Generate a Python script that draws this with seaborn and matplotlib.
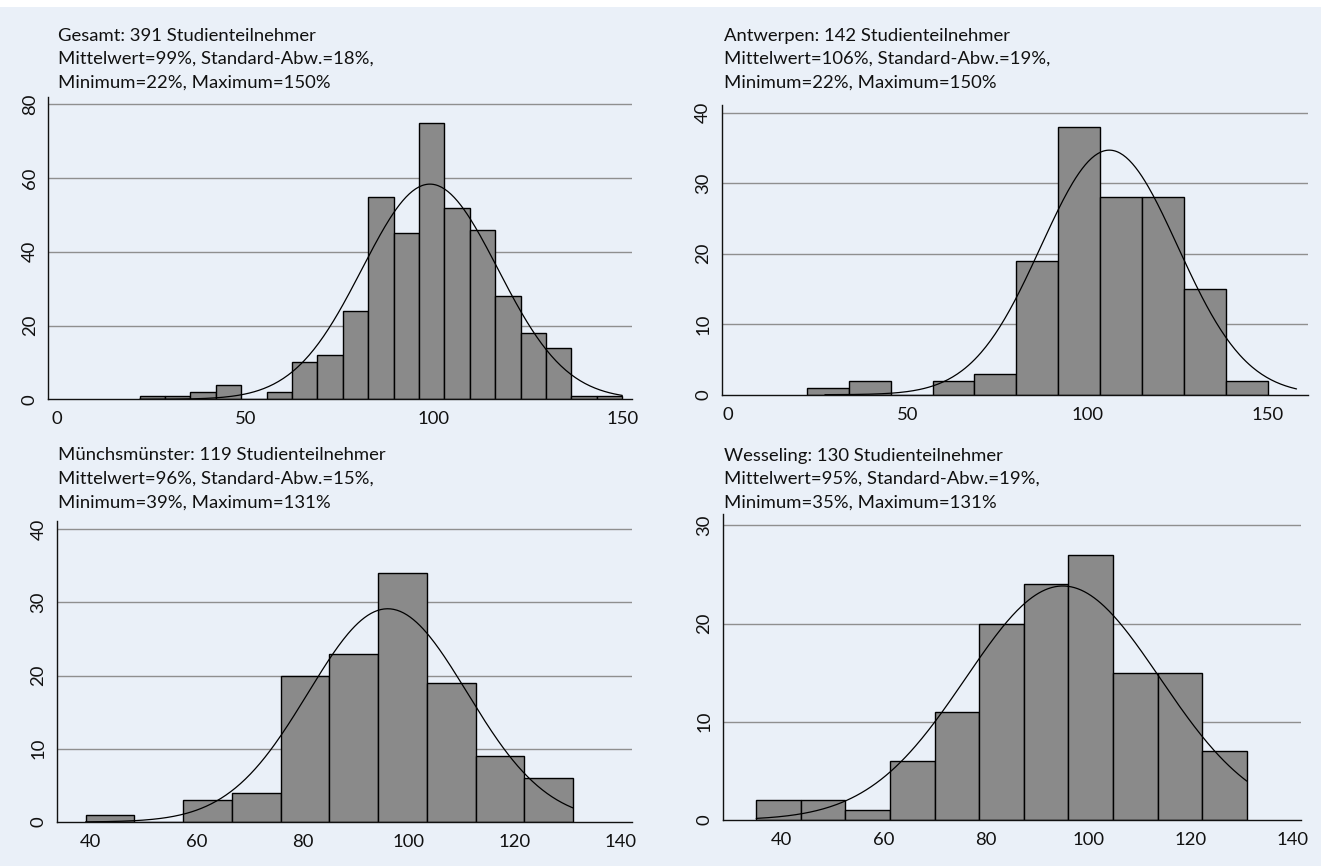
import numpy as np
import matplotlib
matplotlib.use("Agg")
import matplotlib.pyplot as plt
from matplotlib.patches import Rectangle
import pandas as pd
import seaborn as sns

sns.set_style("white")
plt.rcParams['font.family'] = ['Lato', 'DejaVu Sans']

# ---- data -------------------------------------------------------------
sites = ["Gesamt", "Antwerpen", "Münchsmünster", "Wesseling"]
participants = [391, 142, 119, 130]
mean_pct = [99, 106, 96, 95]
sd_pct = [18, 19, 15, 19]
min_pct = [22, 22, 39, 35]
max_pct = [150, 150, 131, 131]

# frequencies per histogram bin (equal-width bins from minimum to maximum)
counts_gesamt = [1, 1, 2, 4, 0, 2, 10, 12, 24, 55, 45, 75, 52, 46, 28, 18, 14, 1, 1]
counts_antwerpen = [1, 2, 0, 2, 3, 19, 38, 28, 28, 15, 2]
counts_muenchsmuenster = [1, 0, 3, 4, 20, 23, 34, 19, 9, 6]
counts_wesseling = [2, 2, 1, 6, 11, 20, 24, 27, 15, 15, 7]
all_counts = [counts_gesamt, counts_antwerpen, counts_muenchsmuenster, counts_wesseling]

# x-range covered by the overlaid normal curve
curve_from = [22, 27, 39, 35]
curve_to = [150, 158, 131, 131]

x_ticks = [[0, 50, 100, 150], [0, 50, 100, 150],
           [40, 60, 80, 100, 120, 140], [40, 60, 80, 100, 120, 140]]
y_ticks = [[0, 20, 40, 60, 80], [0, 10, 20, 30, 40],
           [0, 10, 20, 30, 40], [0, 10, 20, 30]]

# ---- layout -----------------------------------------------------------
W, H = 1321, 866
BG = '#eaf0f8'
BAR = '#8a8a8a'
GRID = '#8f8f8f'
INK = '#111111'

# axes boxes in pixels: left, right, top, bottom
boxes = [(48.3, 631.7, 96.7, 399.3), (721.7, 1307.7, 105.0, 394.7),
         (57.0, 632.0, 521.0, 822.0), (723.0, 1301.0, 514.0, 820.0)]
xlims = [(-2.2, 152.5), (-1.67, 161.1), (33.6, 142.1), (28.5, 141.6)]
ylims = [(0, 82.1), (0, 41.1), (0, 41.1), (0, 31.15)]
text_x = [57.5, 724.0, 58.0, 724.0]
text_base = [[40.7, 64.0, 87.3], [40.7, 64.0, 87.3],
             [460.5, 484.0, 507.5], [460.5, 484.0, 507.5]]

fig = plt.figure(figsize=(W / 100, H / 100), dpi=100, facecolor=BG)
fig.patches.append(Rectangle((0, 1 - 7 / H), 1, 7 / H, transform=fig.transFigure,
                             facecolor='white', edgecolor='none', zorder=-1))

FS = 13.3

for i in range(4):
    l, r, t, b = boxes[i]
    ax = fig.add_axes([l / W, 1 - b / H, (r - l) / W, (b - t) / H])
    ax.set_facecolor(BG)

    counts = np.array(all_counts[i], dtype=float)
    nb = len(counts)
    edges = np.linspace(min_pct[i], max_pct[i], nb + 1)
    centers = (edges[:-1] + edges[1:]) / 2
    df = pd.DataFrame({"wert": centers, "anzahl": counts})
    sns.histplot(data=df, x="wert", weights="anzahl", bins=edges.tolist(), ax=ax,
                 stat="count", color=BAR, alpha=1.0, edgecolor='black',
                 linewidth=1.0, zorder=2)

    # normal density scaled to frequencies
    width = edges[1] - edges[0]
    xs = np.linspace(curve_from[i], curve_to[i], 300)
    ys = participants[i] * width * np.exp(-0.5 * ((xs - mean_pct[i]) / sd_pct[i]) ** 2) \
        / (sd_pct[i] * np.sqrt(2 * np.pi))
    sns.lineplot(x=xs, y=ys, ax=ax, color='black', linewidth=0.9, zorder=3)

    ax.set_xlim(*xlims[i])
    ax.set_ylim(*ylims[i])
    ax.set_xticks(x_ticks[i])
    ax.set_yticks(y_ticks[i])
    ax.set_yticklabels([str(v) for v in y_ticks[i]], rotation=90, va='center')
    ax.set_xlabel("")
    ax.set_ylabel("")

    for yv in y_ticks[i][1:]:
        ax.axhline(yv, color=GRID, linewidth=1.0, zorder=1)

    for s in ['top', 'right']:
        ax.spines[s].set_visible(False)
    for s in ['left', 'bottom']:
        ax.spines[s].set_color(INK)
        ax.spines[s].set_linewidth(1.0)
        ax.spines[s].set_zorder(4)

    ax.tick_params(axis='both', which='major', direction='out', length=4.5,
                   width=1.0, color=INK, labelcolor=INK, labelsize=FS, pad=3)
    ax.tick_params(axis='x', pad=4)

    lines = [f"{sites[i]}: {participants[i]} Studienteilnehmer",
             f"Mittelwert={mean_pct[i]}%, Standard-Abw.={sd_pct[i]}%,",
             f"Minimum={min_pct[i]}%, Maximum={max_pct[i]}%"]
    for line, yb in zip(lines, text_base[i]):
        fig.text(text_x[i] / W, 1 - yb / H, line, fontsize=FS, color=INK,
                 ha='left', va='baseline')

fig.savefig("out.png", dpi=100, facecolor=BG)
